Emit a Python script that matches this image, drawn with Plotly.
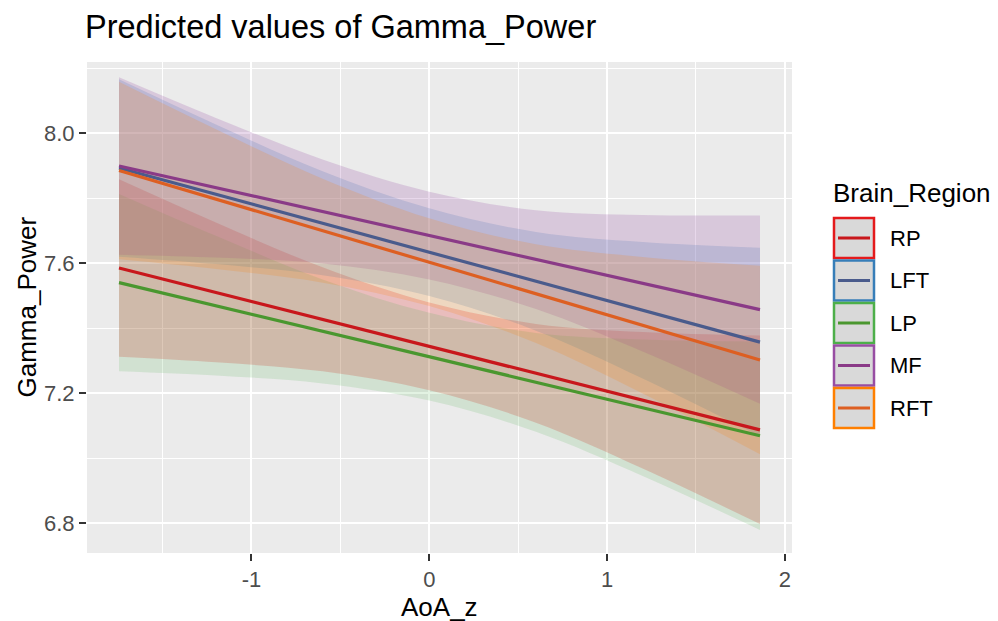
"""Predicted values of Gamma_Power by Brain_Region (ggeffects-style plot)."""

import plotly.graph_objects as go

# ---- data ------------------------------------------------------------------
aoa_z = [-1.745, -1.2, -0.6, 0.0, 0.6, 1.2, 1.86]

regions = ["RP", "LFT", "LP", "MF", "RFT"]

pred_rp = [7.585, 7.510, 7.427, 7.344, 7.261, 7.178, 7.087]
pred_lft = [7.893, 7.812, 7.723, 7.634, 7.544, 7.455, 7.357]
pred_lp = [7.540, 7.469, 7.390, 7.312, 7.233, 7.155, 7.069]
pred_mf = [7.899, 7.832, 7.759, 7.685, 7.611, 7.538, 7.457]
pred_rft = [7.885, 7.797, 7.700, 7.603, 7.506, 7.409, 7.302]

low_rp = [7.312, 7.295, 7.267, 7.209, 7.109, 6.968, 6.797]
high_rp = [7.858, 7.725, 7.587, 7.479, 7.413, 7.388, 7.377]
low_lft = [7.620, 7.597, 7.563, 7.499, 7.392, 7.245, 7.067]
high_lft = [8.166, 8.027, 7.883, 7.769, 7.696, 7.665, 7.647]
low_lp = [7.267, 7.254, 7.230, 7.177, 7.081, 6.945, 6.779]
high_lp = [7.813, 7.684, 7.550, 7.447, 7.385, 7.365, 7.359]
low_mf = [7.626, 7.617, 7.599, 7.550, 7.459, 7.328, 7.167]
high_mf = [8.172, 8.047, 7.919, 7.820, 7.763, 7.748, 7.747]
low_rft = [7.612, 7.582, 7.540, 7.468, 7.354, 7.199, 7.012]
high_rft = [8.158, 8.012, 7.860, 7.738, 7.658, 7.619, 7.592]

x_ticks = [-1, 0, 1, 2]
y_ticks = [6.8, 7.2, 7.6, 8.0]
y_tick_labels = ["6.8", "7.2", "7.6", "8.0"]

# ---- styling ----------------------------------------------------------------
FONT = "Liberation Sans, Arial, Helvetica, sans-serif"
SET1 = ["#E41A1C", "#377EB8", "#4DAF4A", "#984EA3", "#FF7F00"]
LINE_COLORS = ["#C8171C", "#4A5B8C", "#4A972F", "#8A3A87", "#DD5F22"]
FILL_ALPHA = [0.22, 0.2, 0.16, 0.22, 0.18]

# the page body adds an 8px offset, so the figure is drawn 8px smaller
OFFSET = 8
W, H = 998 - OFFSET, 621 - OFFSET
PANEL = {"l": 87 - OFFSET, "r": 792 - OFFSET, "t": 62 - OFFSET, "b": 553 - OFFSET}


def _rgba(hex_color: str, alpha: float) -> str:
  """Convert a hex colour to an rgba() string."""
  h = hex_color.lstrip("#")
  r, g, b = (int(h[i:i + 2], 16) for i in (0, 2, 4))
  return f"rgba({r},{g},{b},{alpha})"


def _px(x: float) -> float:
  """Screen x (reference pixels) to paper coordinate."""
  return (x - OFFSET - PANEL["l"]) / (PANEL["r"] - PANEL["l"])


def _py(y: float) -> float:
  """Screen y (reference pixels) to paper coordinate."""
  return (PANEL["b"] - (y - OFFSET)) / (PANEL["b"] - PANEL["t"])


preds = [pred_rp, pred_lft, pred_lp, pred_mf, pred_rft]
lows = [low_rp, low_lft, low_lp, low_mf, low_rft]
highs = [high_rp, high_lft, high_lp, high_mf, high_rft]

fig = go.Figure()

# confidence bands
for name, low, high, color, alpha in zip(regions, lows, highs, SET1, FILL_ALPHA):
  fig.add_trace(go.Scatter(
    x=aoa_z, y=low, mode="lines", line={"width": 0, "shape": "spline"},
    hoverinfo="skip", showlegend=False,
  ))
  fig.add_trace(go.Scatter(
    x=aoa_z, y=high, mode="lines", line={"width": 0, "shape": "spline"},
    fill="tonexty", fillcolor=_rgba(color, alpha),
    name=f"{name} CI", showlegend=False,
  ))

# predicted lines
for name, pred, color in zip(regions, preds, LINE_COLORS):
  fig.add_trace(go.Scatter(
    x=aoa_z, y=pred, mode="lines", name=name,
    line={"color": color, "width": 3.2}, showlegend=False,
  ))

axis_common = {
  "showline": False,
  "zeroline": False,
  "gridcolor": "#FFFFFF",
  "gridwidth": 2.4,
  "ticks": "outside",
  "ticklen": 7,
  "tickwidth": 2,
  "tickcolor": "#333333",
  "tickfont": {"family": FONT, "size": 22, "color": "#4D4D4D"},
}

fig.update_layout(
  width=W,
  height=H,
  margin={"l": PANEL["l"], "r": W - PANEL["r"], "t": PANEL["t"], "b": H - PANEL["b"]},
  paper_bgcolor="#FFFFFF",
  plot_bgcolor="#EBEBEB",
  showlegend=False,
  title={
    "text": "Predicted values of Gamma_Power",
    "font": {"family": FONT, "size": 32.5, "color": "#000000"},
    "xref": "container", "yref": "container",
    "x": (85 - OFFSET) / W, "xanchor": "left",
    "y": 1 - (27 - OFFSET) / H, "yanchor": "middle",
  },
  xaxis={
    **axis_common,
    "range": [-1.925, 2.04],
    "tickvals": x_ticks,
    "ticktext": [str(v) for v in x_ticks],
    "minor": {"dtick": 0.5, "tick0": -1.5, "gridcolor": "#FFFFFF", "gridwidth": 1.1, "showgrid": True},
  },
  yaxis={
    **axis_common,
    "range": [6.708, 8.219],
    "tickvals": y_ticks,
    "ticktext": y_tick_labels,
    "minor": {"dtick": 0.2, "tick0": 6.8, "gridcolor": "#FFFFFF", "gridwidth": 1.1, "showgrid": True},
  },
)

# axis titles
fig.add_annotation(
  text="AoA_z", xref="paper", yref="paper", x=0.5, y=_py(607),
  xanchor="center", yanchor="middle", showarrow=False,
  font={"family": FONT, "size": 26, "color": "#000000"},
)
fig.add_annotation(
  text="Gamma_Power", xref="paper", yref="paper", x=_px(26), y=0.5,
  xanchor="center", yanchor="middle", textangle=-90, showarrow=False,
  font={"family": FONT, "size": 26, "color": "#000000"},
)

# legend drawn ggplot-style: grey key boxes with coloured border and a line
fig.add_annotation(
  text="Brain_Region", xref="paper", yref="paper", x=_px(831), y=_py(193),
  xanchor="left", yanchor="middle", showarrow=False,
  font={"family": FONT, "size": 26, "color": "#000000"},
)
for i, (name, border, line_color) in enumerate(zip(regions, SET1, LINE_COLORS)):
  top = 218 + i * 42.5
  bottom = top + 40
  fig.add_shape(
    type="rect", xref="paper", yref="paper",
    x0=_px(834), x1=_px(874), y0=_py(bottom), y1=_py(top),
    fillcolor="#D9D9D9", line={"color": border, "width": 2.5},
  )
  mid = (top + bottom) / 2
  fig.add_shape(
    type="line", xref="paper", yref="paper",
    x0=_px(838), x1=_px(870), y0=_py(mid), y1=_py(mid),
    line={"color": line_color, "width": 3},
  )
  fig.add_annotation(
    text=name, xref="paper", yref="paper", x=_px(888), y=_py(mid),
    xanchor="left", yanchor="middle", showarrow=False,
    font={"family": FONT, "size": 22, "color": "#000000"},
  )

fig.write_html("out.html")
